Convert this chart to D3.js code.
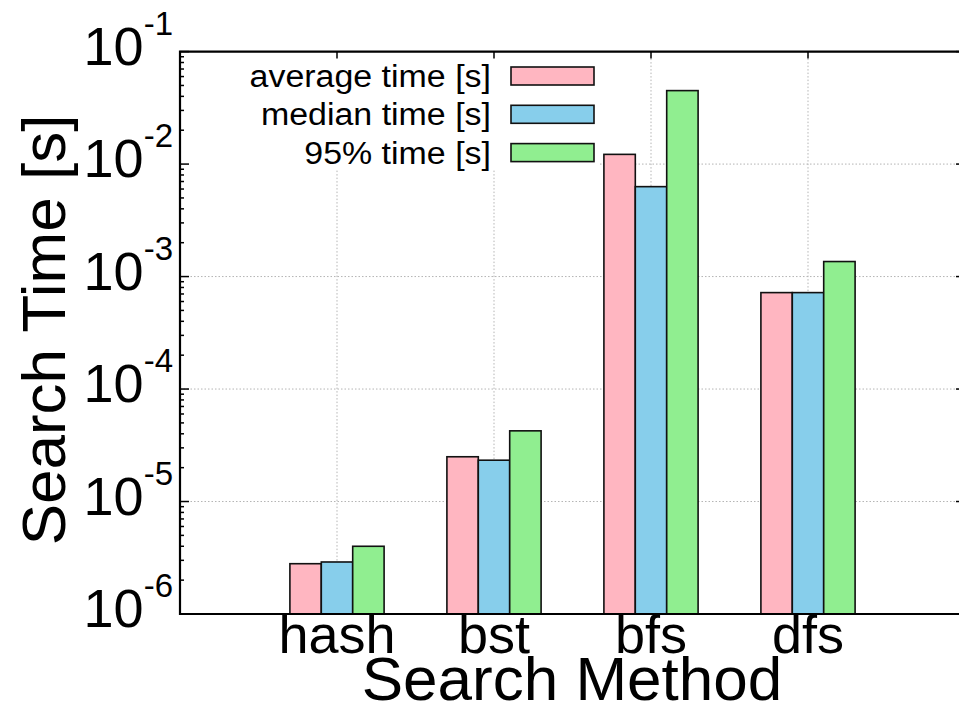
<!DOCTYPE html>
<html>
<head>
<meta charset="utf-8">
<script src="https://cdn.jsdelivr.net/npm/d3@7"></script>
<style>
  body { margin: 0; background: #fff; }
  text { font-family: "Liberation Sans", Arial, sans-serif; fill: #000; }
</style>
</head>
<body>
<div id="chart"></div>
<script>
// values
const categories = ["hash", "bst", "bfs", "dfs"];
const avgTime = [2.8e-6, 2.5e-5, 1.22e-2, 7.2e-4];
const medianTime = [2.9e-6, 2.33e-5, 6.3e-3, 7.2e-4];
const p95Time = [4.0e-6, 4.25e-5, 4.5e-2, 1.36e-3];
const seriesNames = ["average time [s]", "median time [s]", "95% time [s]"];
const seriesColors = ["#ffb6c1", "#87ceeb", "#90ee90"];
const yTickExps = [-6, -5, -4, -3, -2, -1];

const width = 959, height = 708;
const plotL = 180, plotT = 51.6, plotR = 965, plotB = 614;

const svg = d3.select("#chart").append("svg")
    .attr("width", width)
    .attr("height", height);

const x = d3.scaleLinear().domain([0, categories.length + 1]).range([plotL, plotR]);
const y = d3.scaleLog().domain([1e-6, 1e-1]).range([plotB, plotT]);
const barW = x(0.2) - x(0);

// grid
const grid = svg.append("g").attr("stroke", "#b4b4b4").attr("stroke-width", 1).attr("stroke-dasharray", "1.5,2");
grid.selectAll(".gy")
    .data(yTickExps.slice(1, -1))
    .enter().append("line")
    .attr("x1", plotL).attr("x2", plotR)
    .attr("y1", d => y(Math.pow(10, d))).attr("y2", d => y(Math.pow(10, d)));
grid.selectAll(".gx")
    .data(categories)
    .enter().append("line")
    .attr("x1", (d, i) => x(i + 1)).attr("x2", (d, i) => x(i + 1))
    .attr("y1", plotT).attr("y2", plotB);

// legend background hides the grid
svg.append("rect")
    .attr("x", plotL + 2).attr("y", plotT + 2)
    .attr("width", 418).attr("height", 116)
    .attr("fill", "#fff");

// bars
const series = [avgTime, medianTime, p95Time];
series.forEach(function(vals, j) {
    svg.append("g").selectAll("rect")
        .data(vals)
        .enter().append("rect")
        .attr("x", (d, i) => x(i + 1) + (j - 1.5) * barW)
        .attr("y", d => y(d))
        .attr("width", barW)
        .attr("height", d => plotB - y(d))
        .attr("fill", seriesColors[j])
        .attr("stroke", "#111")
        .attr("stroke-width", 1.6);
});

// ticks (inward, on both sides)
const minor = [];
for (let e = -6; e < -1; e++) {
    for (let m = 2; m <= 9; m++) minor.push(m * Math.pow(10, e));
}
const ticks = svg.append("g").attr("stroke", "#000").attr("stroke-width", 1.5);
[plotL, plotR].forEach(function(ax) {
    const dir = ax === plotL ? 1 : -1;
    ticks.selectAll(null)
        .data(minor)
        .enter().append("line")
        .attr("x1", ax).attr("x2", ax + dir * 4)
        .attr("y1", d => y(d)).attr("y2", d => y(d));
    ticks.selectAll(null)
        .data(yTickExps)
        .enter().append("line")
        .attr("x1", ax).attr("x2", ax + dir * 9)
        .attr("y1", d => y(Math.pow(10, d))).attr("y2", d => y(Math.pow(10, d)));
});
ticks.selectAll(null)
    .data(categories)
    .enter().append("line")
    .attr("x1", (d, i) => x(i + 1)).attr("x2", (d, i) => x(i + 1))
    .attr("y1", plotT).attr("y2", plotT + 7);

// frame
svg.append("path")
    .attr("d", `M${plotR},${plotT}H${plotL}V${plotB}H${plotR}V${plotT}`)
    .attr("fill", "none")
    .attr("stroke", "#000")
    .attr("stroke-width", 2.2);

// y tick labels 10^n
const yl = svg.append("g").selectAll("text")
    .data(yTickExps)
    .enter().append("text")
    .attr("x", 173)
    .attr("y", d => y(Math.pow(10, d)) + 13)
    .attr("text-anchor", "end");
yl.append("tspan").attr("font-size", 54).text("10");
yl.append("tspan").attr("font-size", 33).attr("dy", -30).text(d => String(d));

// category labels
svg.append("g").selectAll("text")
    .data(categories)
    .enter().append("text")
    .attr("x", (d, i) => x(i + 1))
    .attr("y", 653)
    .attr("text-anchor", "middle")
    .attr("font-size", 54)
    .text(d => d);

// axis titles
svg.append("text")
    .attr("x", 572).attr("y", 700)
    .attr("text-anchor", "middle")
    .attr("font-size", 62)
    .text("Search Method");
svg.append("text")
    .attr("transform", "translate(65,330) rotate(-90)")
    .attr("text-anchor", "middle")
    .attr("font-size", 62)
    .text("Search Time [s]");

// legend
const legend = svg.append("g");
seriesNames.forEach(function(name, j) {
    const cy = 76 + j * 38.3;
    legend.append("text")
        .attr("transform", `translate(491,${cy + 11}) scale(1.095,1)`)
        .attr("text-anchor", "end")
        .attr("font-size", 31)
        .text(name);
    legend.append("rect")
        .attr("x", 511).attr("y", cy - 9)
        .attr("width", 83).attr("height", 18)
        .attr("fill", seriesColors[j])
        .attr("stroke", "#111")
        .attr("stroke-width", 1.6);
});
</script>
</body>
</html>
